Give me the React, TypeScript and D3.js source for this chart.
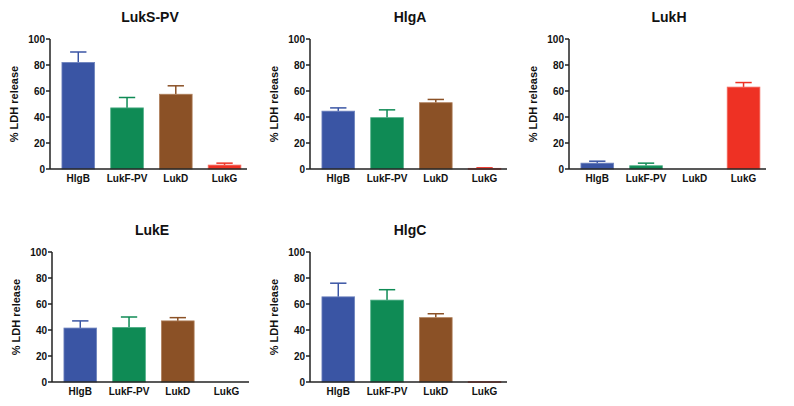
import React from "react";
import * as d3 from "d3";

const categories = ["HlgB", "LukF-PV", "LukD", "LukG"];
const panelTitles = ["LukS-PV", "HlgA", "LukH", "LukE", "HlgC"];
const meansLukSPV = [82, 47, 57.5, 3];
const semLukSPV = [8, 8, 6.5, 1.5];
const meansHlgA = [44.5, 39.5, 51, 0.5];
const semHlgA = [2.5, 6, 2.5, 0.4];
const meansLukH = [4.5, 2.5, 0, 63];
const semLukH = [1.5, 2, 0, 3.5];
const meansLukE = [41.5, 42, 47, 0];
const semLukE = [5.5, 8, 2.5, 0];
const meansHlgC = [65.5, 63, 49.5, 0.3];
const semHlgC = [10.5, 8, 3, 0];
const yTicks = [0, 20, 40, 60, 80, 100];

const panelMeans = [meansLukSPV, meansHlgA, meansLukH, meansLukE, meansHlgC];
const panelSems = [semLukSPV, semHlgA, semLukH, semLukE, semHlgC];

const fills = ["#3A55A4", "#0F8B55", "#8B5126", "#EE3124"];
const strokes = ["#6F84BE", "#4DAE85", "#B0805C", "#F36B60"];

// layout: y-axis x position, y of top (100), y of bottom (0)
const layout = [
  { ax: 50, top: 39, bottom: 169 },
  { ax: 310, top: 39, bottom: 169 },
  { ax: 569, top: 39, bottom: 169 },
  { ax: 52, top: 252, bottom: 382 },
  { ax: 310, top: 252, bottom: 382 },
];
const plotWidth = 196;
const FONT = "'Liberation Sans', Arial, Helvetica, sans-serif";

function Panel({ idx }: { idx: number }) {
  const { ax, top, bottom } = layout[idx];
  const means = panelMeans[idx];
  const sems = panelSems[idx];
  const y = d3.scaleLinear().domain([0, 100]).range([bottom, top]);
  const x = d3
    .scaleBand<string>()
    .domain(categories)
    .range([ax, ax + plotWidth])
    .paddingInner(0.33)
    .paddingOuter(0.175)
    .align(0.7);
  const bw = x.bandwidth();
  const cx = ax + plotWidth / 2;
  return (
    <g>
      <text
        x={cx + 2}
        y={top - 17}
        textAnchor="middle"
        fontFamily={FONT}
        fontWeight="bold"
        fontSize={14}
        fill="#111"
      >
        {panelTitles[idx]}
      </text>
      <text
        transform={`translate(${ax - 35},${(top + bottom) / 2}) rotate(-90)`}
        textAnchor="middle"
        dominantBaseline="middle"
        fontFamily={FONT}
        fontWeight="bold"
        fontSize={11}
        fill="#111"
      >
        % LDH release
      </text>
      {categories.map((c, i) => {
        const m = means[i];
        const s = sems[i];
        const bx = x(c)!;
        const xc = bx + bw / 2;
        if (m <= 0) return null;
        return (
          <g key={c}>
            {s > 0 && (
              <g stroke={fills[i]} strokeWidth={1.5}>
                <line x1={xc} x2={xc} y1={y(m)} y2={y(m + s)} />
                <line x1={xc - bw / 4} x2={xc + bw / 4} y1={y(m + s)} y2={y(m + s)} />
              </g>
            )}
            <rect
              x={bx}
              y={y(m)}
              width={bw}
              height={Math.max(y(0) - y(m), 1)}
              fill={fills[i]}
              stroke={strokes[i]}
              strokeWidth={0.8}
            />
          </g>
        );
      })}
      <line x1={ax} x2={ax} y1={top} y2={bottom} stroke="#222" strokeWidth={1.5} />
      <line x1={ax} x2={ax + plotWidth + 1} y1={bottom} y2={bottom} stroke="#222" strokeWidth={1.5} />
      {yTicks.map((t) => (
        <g key={t}>
          <line x1={ax - 4} x2={ax} y1={y(t)} y2={y(t)} stroke="#222" strokeWidth={1.5} />
          <text
            x={ax - 5}
            y={y(t)}
            textAnchor="end"
            dominantBaseline="central"
            fontFamily={FONT}
            fontWeight="bold"
            fontSize={10}
            fill="#111"
          >
            {t}
          </text>
        </g>
      ))}
      {categories.map((c) => (
        <text
          key={c}
          x={x(c)! + bw / 2}
          y={bottom + 13}
          textAnchor="middle"
          fontFamily={FONT}
          fontWeight="bold"
          fontSize={10}
          fill="#111"
        >
          {c}
        </text>
      ))}
    </g>
  );
}

export default function App() {
  return (
    <svg
      width={794}
      height={406}
      style={{ position: "absolute", left: 0, top: 0, background: "#fff" }}
    >
      <rect width={794} height={406} fill="#fff" />
      {panelTitles.map((_, i) => (
        <Panel key={i} idx={i} />
      ))}
    </svg>
  );
}
